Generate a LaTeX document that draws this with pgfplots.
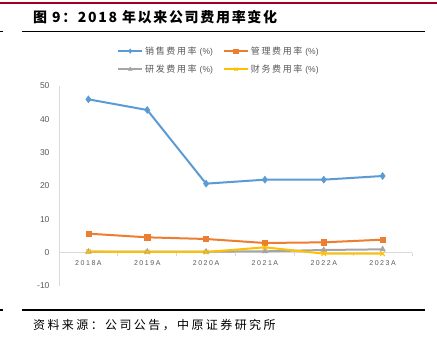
\documentclass[border=0pt]{standalone}
\usepackage{fontspec}
\setmainfont{Liberation Sans}
\newfontfamily\cjk{Noto Sans CJK SC}
\usepackage{pgfplots}
\pgfplotsset{compat=1.18}
\definecolor{cblue}{HTML}{5B9BD5}
\definecolor{corange}{HTML}{ED7D31}
\definecolor{cgray}{HTML}{A5A5A5}
\definecolor{cyellow}{HTML}{FFC000}
\definecolor{darkred}{HTML}{A0001E}
\definecolor{txtgray}{HTML}{595959}
\definecolor{axgray}{HTML}{D9D9D9}
\newcommand{\legtxt}[1]{{\cjk\addfontfeatures{LetterSpace=18}#1}\hspace{3pt}{\fontsize{8.5}{10}\selectfont(\%)}}
\begin{document}
\begin{tikzpicture}[x=1pt,y=1pt]
\useasboundingbox (0,0) rectangle (437,353);
\fill[white] (0,0) rectangle (437,353);
\draw[line width=2pt, draw=darkred] (0,350) -- (437,350);
\node[anchor=west, inner sep=0pt, font=\cjk\bfseries\addfontfeatures{LetterSpace=12}\fontsize{14}{16}\selectfont] at (33,336) {图 9：2018 年以来公司费用率变化};
\draw[line width=1.8pt] (22,321.5) -- (425,321.5);
\draw[line width=1.8pt] (0,321.5) -- (3,321.5);
\draw[line width=1.8pt] (22,43) -- (425,43);
\draw[line width=1.8pt] (0,43) -- (3,43);
\node[anchor=west, inner sep=0pt, font=\cjk\addfontfeatures{LetterSpace=20}\fontsize{12}{14}\selectfont] at (33,28) {资料来源：公司公告，中原证券研究所};
\begin{axis}[
  at={(59pt,67pt)}, anchor=south west,
  width=353pt, height=200pt, scale only axis,
  xmin=-0.5, xmax=5.5, ymin=-10, ymax=50,
  ytick={-10,0,...,50},
  xtick={0,...,5},
  xticklabels={2018A,2019A,2020A,2021A,2022A,2023A},
  minor xtick={-0.5,0.5,...,5.5},
  axis y line*=left, axis x line*=middle,
  x axis line style={-, draw=axgray, line width=0.8pt},
  y axis line style={-, draw=axgray, line width=0.8pt},
  major tick length=0pt,
  minor tick length=3pt,
  xtick align=outside,
  minor x tick style={draw=axgray, line width=0.8pt},
  ytick style={draw=none},
  /pgf/number format/assume math mode=true,
  yticklabel style={font=\fontsize{8.5}{10}\selectfont, text=txtgray, xshift=-6pt},
  xticklabel style={font=\addfontfeatures{LetterSpace=22}\fontsize{7}{8}\selectfont, text=txtgray, yshift=-4pt},
  legend columns=2,
  legend style={at={(0.453,1)}, anchor=south, yshift=8pt, draw=none, fill=none,
    font=\fontsize{9}{10}\selectfont, text=txtgray, row sep=5pt,
    /tikz/every even column/.append style={column sep=8pt},
    /tikz/every odd column/.append style={column sep=0pt}},
  legend image code/.code={\draw[mark repeat=2,mark phase=2,#1,mark size=2.2pt] plot coordinates {(0pt,0pt) (12pt,0pt) (24pt,0pt)};},
  every axis plot/.append style={line width=2pt},
]
\addplot[cblue, mark=diamond*, mark size=3.5pt, mark options={line width=0.5pt}] coordinates {(0,46.0) (1,42.8) (2,20.7) (3,21.9) (4,21.9) (5,23.0)};
\addlegendentry{\legtxt{销售费用率}}
\addplot[corange, mark=square*, mark size=2.6pt, mark options={line width=0.5pt}] coordinates {(0,5.7) (1,4.6) (2,4.1) (3,2.9) (4,3.1) (5,3.9)};
\addlegendentry{\legtxt{管理费用率}}
\addplot[cgray, mark=triangle*, mark size=3.2pt, mark options={line width=0.5pt}] coordinates {(0,0.3) (1,0.3) (2,0.3) (3,0.4) (4,0.8) (5,1.0)};
\addlegendentry{\legtxt{研发费用率}}
\addplot[cyellow, mark=x, mark size=3.2pt, mark options={line width=1pt}] coordinates {(0,0.3) (1,0.2) (2,0.2) (3,1.6) (4,-0.3) (5,-0.3)};
\addlegendentry{\legtxt{财务费用率}}
\end{axis}
\end{tikzpicture}
\end{document}
